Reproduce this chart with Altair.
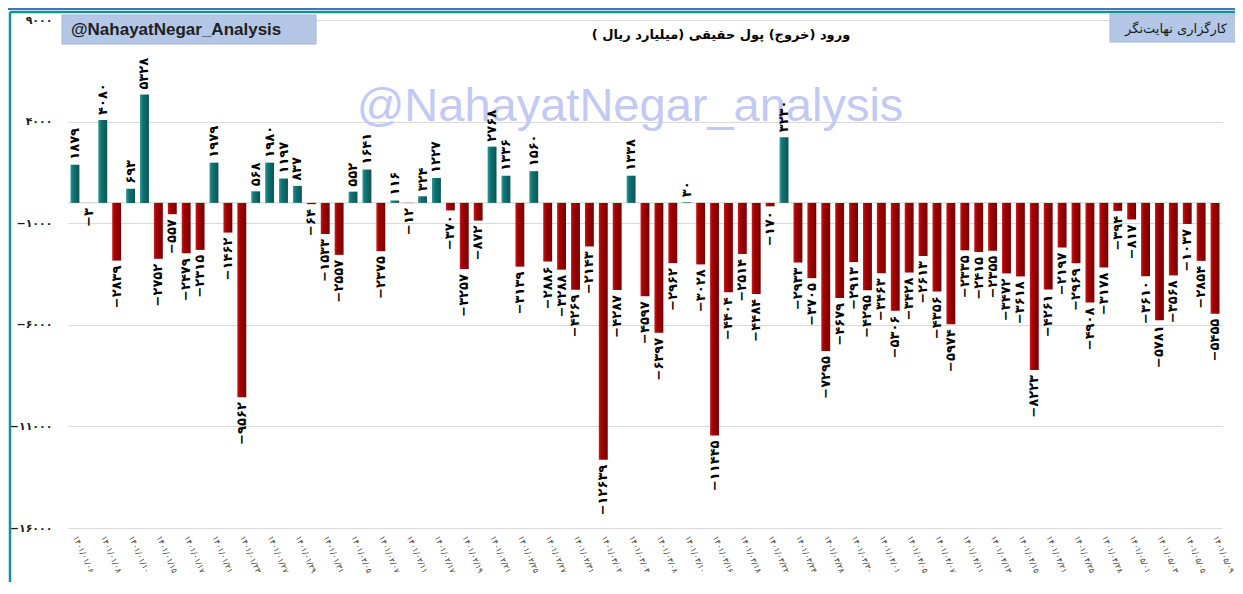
import altair as alt
import pandas as pd

# ---------------- data ----------------
dates_latin = [
    "1401/01/06", "1401/01/07", "1401/01/08", "1401/01/09", "1401/01/10", "1401/01/14", "1401/01/15",
    "1401/01/16", "1401/01/17", "1401/01/20", "1401/01/21", "1401/01/22", "1401/01/23", "1401/01/24",
    "1401/01/27", "1401/01/28", "1401/01/29", "1401/01/30", "1401/01/31",
    "1401/02/04", "1401/02/05", "1401/02/06", "1401/02/07", "1401/02/10", "1401/02/11", "1401/02/12",
    "1401/02/17", "1401/02/18", "1401/02/19", "1401/02/20", "1401/02/21", "1401/02/24", "1401/02/25",
    "1401/02/26", "1401/02/27", "1401/02/28", "1401/02/31",
    "1401/03/01", "1401/03/02", "1401/03/03", "1401/03/04", "1401/03/07", "1401/03/08", "1401/03/09",
    "1401/03/10", "1401/03/11", "1401/03/16", "1401/03/17", "1401/03/18", "1401/03/21", "1401/03/22",
    "1401/03/23", "1401/03/24", "1401/03/25", "1401/03/28", "1401/03/29", "1401/03/30", "1401/03/31",
    "1401/04/01", "1401/04/04", "1401/04/05", "1401/04/06", "1401/04/07", "1401/04/08", "1401/04/11",
    "1401/04/12", "1401/04/13", "1401/04/14", "1401/04/15", "1401/04/20", "1401/04/21", "1401/04/22",
    "1401/04/25", "1401/04/26", "1401/04/28", "1401/04/29",
    "1401/05/01", "1401/05/02", "1401/05/03", "1401/05/04", "1401/05/05", "1401/05/08", "1401/05/09",
]

values = [
    1879, -3, 4080, -2839, 693, 5328, -2752, -557, -2479, -2315,
    1979, -1462, -9562, 568, 1980, 1197, 837, -64, -1533, -2557,
    552, 1641, -2375, 116, -12, 324, 1227, -370, -3257, -872,
    2768, 1336, -3139, 1560, -2886, -3288, -4269, -2143, -12639, -4287,
    1338, -4597, -6397, -2962, 30, -3028, -11445, -4404, -2514, -4484,
    -170, 3230, -2933, -3705, -7295, -4679, -2913, -4295, -3463, -5306,
    -3428, -2613, -4356, -5974, -2335, -2415, -2355, -3472, -3618, -8223,
    -4261, -2197, -2969, -4908, -3178, -394, -817, -3610, -5781, -3568,
    -1037, -2854, -5455,
]

y_ticks = [9000, 4000, -1000, -6000, -11000, -16000]

title_text = "ورود (خروج) پول حقیقی (میلیارد ریال )\u200f"
brand_text = "کارگزاری نهایت\u200cنگر\u200f"
handle_text = "@NahayatNegar_Analysis"
watermark_text = "@NahayatNegar_analysis"

# ---------------- helpers ----------------
PERSIAN = str.maketrans("0123456789", "۰۱۲۳۴۵۶۷۸۹")


def fa(n):
    s = str(abs(int(n))).translate(PERSIAN)
    return ("\u2212" + s) if n < 0 else s


dates = [d.translate(PERSIAN) for d in dates_latin]
labels = [fa(v) for v in values]
df = pd.DataFrame({"date": dates, "value": values, "label": labels})
one = pd.DataFrame({"k": [0]})

y_label_expr = " : ".join(
    [f"datum.value == {t} ? '{fa(t)}'" for t in y_ticks]
) + " : ''"

FONT = "DejaVu Sans"
W, H = 1154, 508

x_enc = alt.X(
    "date:N",
    sort=dates,
    scale=alt.Scale(domain=dates, paddingInner=0.36, paddingOuter=0.18),
    axis=alt.Axis(
        values=dates[0::2], labelAngle=66, labelAlign="left", labelBaseline="middle",
        labelPadding=8, labelFontSize=8, labelFont=FONT, labelColor="#404040",
        domain=False, ticks=False, tickSize=0, grid=False, title=None,
        labelOverlap=False,
    ),
)
y_enc = alt.Y(
    "value:Q",
    scale=alt.Scale(domain=[-16000, 9000], nice=False, zero=False),
    axis=alt.Axis(
        values=y_ticks, labelExpr=y_label_expr, grid=True, gridColor="#d9d9d9",
        gridWidth=1, domain=False, ticks=False, tickSize=0, labelPadding=16,
        labelFontSize=11, labelFont=FONT, labelFontWeight="bold", labelColor="#1a1a1a",
        title=None,
    ),
)

teal_grad = alt.Gradient(
    gradient="linear", x1=0, x2=1, y1=0, y2=0,
    stops=[alt.GradientStop(color="#2f9b9b", offset=0),
           alt.GradientStop(color="#137373", offset=0.3),
           alt.GradientStop(color="#0a5555", offset=1)],
)
red_grad = alt.Gradient(
    gradient="linear", x1=0, x2=1, y1=0, y2=0,
    stops=[alt.GradientStop(color="#c81c1c", offset=0),
           alt.GradientStop(color="#a30000", offset=0.3),
           alt.GradientStop(color="#760000", offset=1)],
)

base = alt.Chart(df)

bars_pos = base.transform_filter("datum.value >= 0").mark_bar(color=teal_grad).encode(x=x_enc, y=y_enc)
bars_neg = base.transform_filter("datum.value < 0").mark_bar(color=red_grad).encode(x=x_enc, y=y_enc)

lab_pos = base.transform_filter("datum.value >= 0").mark_text(
    angle=270, align="left", baseline="middle", dx=5, font=FONT, fontSize=13,
    fontWeight="bold", color="#000000",
).encode(x=x_enc, y=y_enc, text="label:N")
lab_neg = base.transform_filter("datum.value < 0").mark_text(
    angle=270, align="right", baseline="middle", dx=-5, font=FONT, fontSize=13,
    fontWeight="bold", color="#000000",
).encode(x=x_enc, y=y_enc, text="label:N")

zero_rule = alt.Chart(one).mark_rule(color="#d0d0d0", strokeWidth=1).encode(y=alt.datum(0))

# decorations
dec = alt.Chart(one)
wm = dec.mark_text(
    text=watermark_text, font="Liberation Sans", fontSize=47, color="#c3c9f3",
    align="center", baseline="alphabetic",
).encode(x=alt.value(562), y=alt.value(101))

blue_line = dec.mark_rule(color="#4472c4", strokeWidth=2).encode(
    x=alt.value(-62), x2=alt.value(1170), y=alt.value(-11))
frame_top = dec.mark_rule(color="#17908f", strokeWidth=2.5).encode(
    x=alt.value(-58), x2=alt.value(1170), y=alt.value(-8))
frame_left = dec.mark_rule(color="#17908f", strokeWidth=2.5).encode(
    x=alt.value(-58), y=alt.value(-8), y2=alt.value(600))

box_left = dec.mark_rect(color="#b4c7e7", stroke="#a3b5d6", strokeWidth=1).encode(
    x=alt.value(-6), x2=alt.value(248), y=alt.value(-5), y2=alt.value(24))
box_left_text = dec.mark_text(
    text=handle_text, font="Liberation Sans", fontSize=17, fontWeight="bold",
    color="#1f1f1f", align="left", baseline="middle",
).encode(x=alt.value(3), y=alt.value(10))

box_right = dec.mark_rect(color="#b4c7e7", stroke="#a3b5d6", strokeWidth=1).encode(
    x=alt.value(1042), x2=alt.value(1180), y=alt.value(-6), y2=alt.value(22))
box_right_text = dec.mark_text(
    text=brand_text, font=FONT, fontSize=13, color="#1a1a1a",
    align="center", baseline="middle",
).encode(x=alt.value(1108), y=alt.value(9))

title = dec.mark_text(
    text=title_text, font=FONT, fontSize=13, fontWeight="bold", color="#000000",
    align="center", baseline="middle",
).encode(x=alt.value(653), y=alt.value(15))

chart = alt.layer(
    wm, zero_rule, bars_pos, bars_neg, lab_pos, lab_neg,
    blue_line, frame_top, frame_left, box_left, box_left_text, box_right, box_right_text, title,
).properties(
    width=W, height=H,
    padding={"left": 60, "top": 12, "right": 13, "bottom": 54},
    autosize=alt.AutoSizeParams(type="none"),
    background="#ffffff",
).configure_view(stroke=None)

chart.save("out.html", embed_options={"renderer": "svg", "actions": False})
